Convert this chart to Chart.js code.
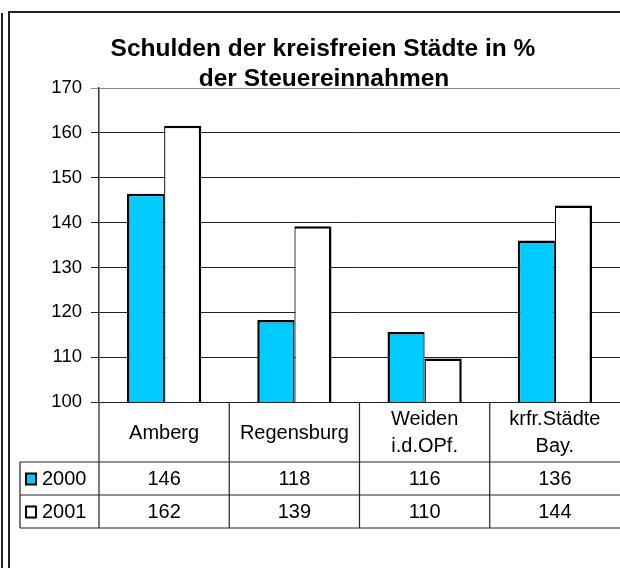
<!DOCTYPE html>
<html><head><meta charset="utf-8">
<script src="https://cdn.jsdelivr.net/npm/chart.js@4/dist/chart.umd.min.js"></script>
<style>
html,body{margin:0;padding:0;background:#fff;overflow:hidden;}
#wrap{position:relative;width:620px;height:568px;}
canvas{display:block;}
</style></head><body>
<div id="wrap"><canvas id="c"></canvas></div>
<script>
const titleLines = ['Schulden der kreisfreien Städte in %', 'der Steuereinnahmen'];
const categories = [['Amberg'], ['Regensburg'], ['Weiden', 'i.d.OPf.'], ['krfr.Städte', 'Bay.']];
const seriesNames = ['2000', '2001'];
const values2000 = [146.4, 118.3, 115.6, 136.0];
const values2001 = [161.6, 139.2, 109.7, 143.8];
const yTicks = [100, 110, 120, 130, 140, 150, 160, 170];
const colors = ['#00CCFF', '#FFFFFF'];

const FONT = '"Liberation Sans", Arial, sans-serif';

const tablePlugin = {
  id: 'tablePlugin',
  beforeDraw(chart) {
    const ctx = chart.ctx;
    ctx.save();
    ctx.fillStyle = '#fff';
    ctx.fillRect(0, 0, chart.width, chart.height);
    ctx.restore();
  },
  afterDraw(chart) {
    const ctx = chart.ctx;
    const a = chart.chartArea;
    const catW = (a.right - a.left) / categories.length;
    ctx.save();
    // outer frame
    ctx.fillStyle = '#222';
    ctx.fillRect(1, 13, 2, chart.height - 13);
    ctx.fillRect(8, 11, 2, chart.height - 11);
    ctx.fillRect(8, 11, chart.width - 8, 2);

    // title
    ctx.fillStyle = '#000';
    ctx.font = 'bold 24.5px ' + FONT;
    ctx.textAlign = 'center';
    ctx.textBaseline = 'alphabetic';
    ctx.fillText(titleLines[0], 323, 56);
    ctx.fillText(titleLines[1], 324, 86);

    // data table
    const top = a.bottom;
    const headH = 60, rowH = 33;
    const r1 = top + headH, r2 = r1 + rowH, r3 = r2 + rowH;
    const tLeft = 20;
    ctx.strokeStyle = '#222';
    ctx.lineWidth = 1.2;
    ctx.beginPath();
    [r1, r2, r3].forEach(yy => { ctx.moveTo(tLeft, yy); ctx.lineTo(chart.width, yy); });
    ctx.moveTo(tLeft, r1); ctx.lineTo(tLeft, r3);
    ctx.moveTo(a.left, top); ctx.lineTo(a.left, r3);
    for (let i = 1; i < categories.length; i++) {
      const xx = a.left + catW * i;
      ctx.moveTo(xx, top); ctx.lineTo(xx, r3);
    }
    ctx.stroke();

    ctx.fillStyle = '#000';
    ctx.font = '20px ' + FONT;
    ctx.textAlign = 'center';
    ctx.textBaseline = 'middle';
    categories.forEach((lab, i) => {
      const cx = a.left + catW * (i + 0.5);
      if (lab.length === 1) {
        ctx.fillText(lab[0], cx, top + headH / 2 + 1);
      } else {
        ctx.fillText(lab[0], cx, top + 17);
        ctx.fillText(lab[1], cx, top + 44);
      }
    });
    const rows = [values2000, values2001];
    rows.forEach((vals, r) => {
      const cy = r1 + rowH * r + rowH / 2 + 1;
      vals.forEach((v, i) => {
        ctx.fillText(String(Math.round(v)), a.left + catW * (i + 0.5), cy);
      });
      // legend key
      ctx.fillStyle = colors[r];
      ctx.fillRect(26, cy - 6, 10, 11);
      ctx.strokeStyle = '#000';
      ctx.lineWidth = 2;
      ctx.strokeRect(26, cy - 6, 10, 11);
      ctx.fillStyle = '#000';
      ctx.textAlign = 'left';
      ctx.fillText(seriesNames[r], 42, cy);
      ctx.textAlign = 'center';
    });
    ctx.restore();
  }
};

new Chart(document.getElementById('c'), {
  type: 'bar',
  data: {
    labels: categories,
    datasets: [
      { label: seriesNames[0], data: values2000, backgroundColor: colors[0], borderColor: '#000',
        borderWidth: { top: 2.5, left: 2.5, right: 1.25, bottom: 0 }, borderSkipped: 'start' },
      { label: seriesNames[1], data: values2001, backgroundColor: colors[1], borderColor: '#000',
        borderWidth: { top: 2.5, left: 1.25, right: 2.5, bottom: 0 }, borderSkipped: 'start' }
    ]
  },
  options: {
    responsive: true,
    maintainAspectRatio: false,
    animation: false,
    devicePixelRatio: 1,
    layout: { padding: { top: 88, bottom: 166, left: 0, right: 0 } },
    datasets: { bar: { categoryPercentage: 0.57, barPercentage: 1.0 } },
    plugins: { legend: { display: false }, title: { display: false }, tooltip: { enabled: false } },
    scales: {
      x: { display: false },
      y: {
        min: 100, max: 170,
        afterBuildTicks(s) { s.ticks = yTicks.map(v => ({ value: v })); },
        afterFit(s) { s.width = 99; },
        ticks: { color: '#000', padding: 9, font: { family: FONT, size: 18.5 } },
        grid: {
          color: c => (c.tick && c.tick.value === 170) ? '#8a8a8a' : '#222',
          lineWidth: 1, tickLength: 8, drawTicks: true
        },
        border: { color: '#333', width: 1.5 }
      }
    }
  },
  plugins: [tablePlugin]
});
</script>
</body></html>
